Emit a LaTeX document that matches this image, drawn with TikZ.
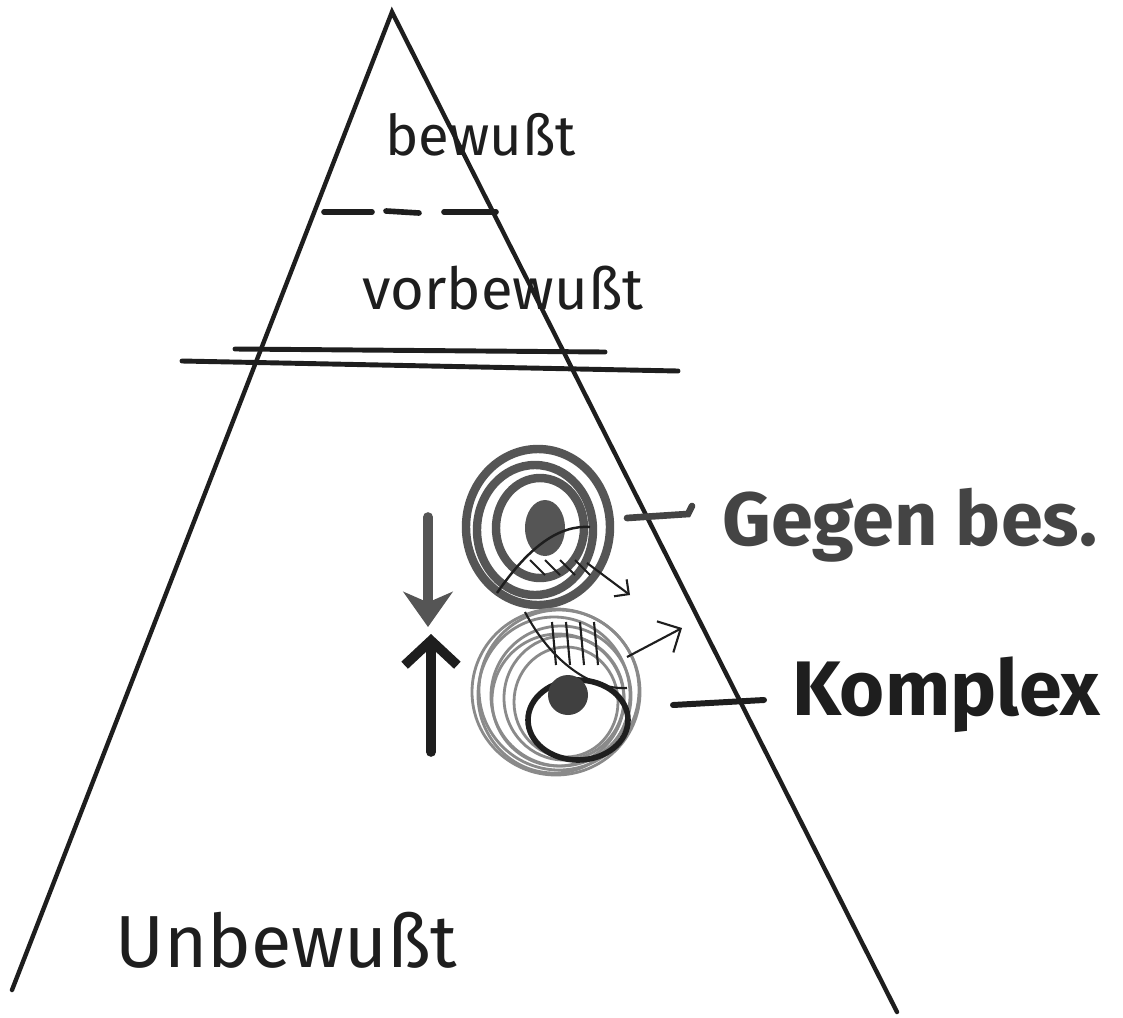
\documentclass[tikz,border=0pt]{standalone}
\usepackage{fontspec}
\newfontfamily\hand{Fira Sans}
\usetikzlibrary{arrows.meta,calc}
\definecolor{ink}{HTML}{1E1E1E}
\definecolor{gink}{HTML}{555555}
\definecolor{lgink}{HTML}{8A8A8A}
\begin{document}
\begin{tikzpicture}[x=0.02cm,y=-0.02cm,
  edge/.style={draw=ink,line width=2.5pt,line cap=round},
  dsh/.style={draw=ink,line width=3.2pt,line cap=round},
  lbl/.style={font=\hand,text=ink,inner sep=0pt,anchor=west},
  ring/.style={draw=gink,line width=4.8pt},
  lring/.style={draw=lgink,line width=1.6pt}]
\useasboundingbox (0,0) rectangle (1123,1018);
\fill[white] (0,0) rectangle (1123,1018);
% pyramid
\coordinate (apex) at (392,12);
\coordinate (bl) at (12,990);
\coordinate (br) at (897,1012);
\draw[edge] (bl) -- (apex) -- (br);
% dashed boundary
\coordinate (d1) at (324,212);
\coordinate (d2) at (372,212);
\coordinate (d3) at (386,211);
\coordinate (d4) at (419,213);
\coordinate (d5) at (444,212);
\coordinate (d6) at (496,212);
\draw[dsh] (d1) -- (d2);
\draw[dsh] (d3) -- (d4);
\draw[dsh] (d5) -- (d6);
% double line
\coordinate (u1) at (235,349);
\coordinate (u2) at (605,352);
\coordinate (w1) at (182,361);
\coordinate (w2) at (678,371);
\draw[edge,line width=2.8pt] (u1) -- (u2);
\draw[edge,line width=2.8pt] (w1) -- (w2);
% labels
\node[lbl,font=\hand\fontsize{32}{36}\selectfont] (bew) at (385,135) {bewußt};
\node[lbl,font=\hand\fontsize{33}{36}\selectfont] (vor) at (362,288) {vorbewußt};
\node[lbl,font=\hand\fontsize{42}{46}\selectfont] (unb) at (115,940) {Unbewußt};
\node[lbl,font=\hand\bfseries\fontsize{43}{46}\selectfont,text=gink!80!black] (geg) at (722,525) {Gegen bes.};
\node[lbl,font=\hand\bfseries\fontsize{44}{48}\selectfont] (kom) at (792,695) {Komplex};
% upper complex (Gegenbesetzung)
\coordinate (gc) at (538,527);
\draw[ring] (gc) ellipse [x radius=72,y radius=78];
\draw[ring] (535,530) ellipse [x radius=58,y radius=65];
\draw[ring] (540,528) ellipse [x radius=44,y radius=50];
\fill[gink] (545,528) ellipse [x radius=20,y radius=28];
% lower complex
\coordinate (kc) at (556,692);
\foreach \dx/\dy/\rx/\ry in {0/0/84/83, 3/-2/80/80, -2/3/76/78, 5/4/70/70, 8/6/60/62, 2/8/66/66, 10/10/52/55}
  \draw[lring] ($(kc)+(\dx,\dy)$) ellipse [x radius=\rx,y radius=\ry];
\draw[ink,line width=3.2pt] (578,720) ellipse [x radius=50,y radius=40];
\fill[ink!85] (568,695) circle [radius=20];
% crossing strokes
\draw[ink,line width=1.4pt] (497,593) .. controls (530,545) and (560,525) .. (590,527);
\foreach \x in {530,545,560,575} \draw[ink,line width=1.2pt] (\x,560) -- (\x+15,575);
\draw[ink,line width=1.2pt] (525,612) .. controls (550,660) and (590,690) .. (627,688);
\foreach \x in {552,566,580,594} \draw[ink,line width=1.2pt] (\x,622) -- (\x+4,665);
\draw[ink,line width=1.2pt,-{Straight Barb[length=6pt]}] (587,563) -- (630,595);
\draw[ink,line width=1.2pt,-{Straight Barb[length=10pt]}] (627,657) -- (682,628);
% connectors to labels
\coordinate (gs) at (627,518);
\draw[gink!80!black,line width=3.8pt,line cap=round] (gs) -- (688,514) -- (692,506);
\coordinate (ks) at (673,705);
\draw[ink,line width=3.4pt,line cap=round] (ks) -- ($(kom.west)+(-28,5)$);
% arrows
\coordinate (a1) at (428,517);
\coordinate (a2) at (428,627);
\draw[gink,line width=5.5pt,line cap=round,-{Stealth[length=20pt,width=28pt,inset=6pt]}] (a1) -- (a2);
\coordinate (b1) at (431,752);
\coordinate (b2) at (431,634);
\draw[ink,line width=5.5pt,line cap=round,-{Straight Barb[length=14pt,width=30pt]}] (b1) -- (b2);
\end{tikzpicture}
\end{document}
